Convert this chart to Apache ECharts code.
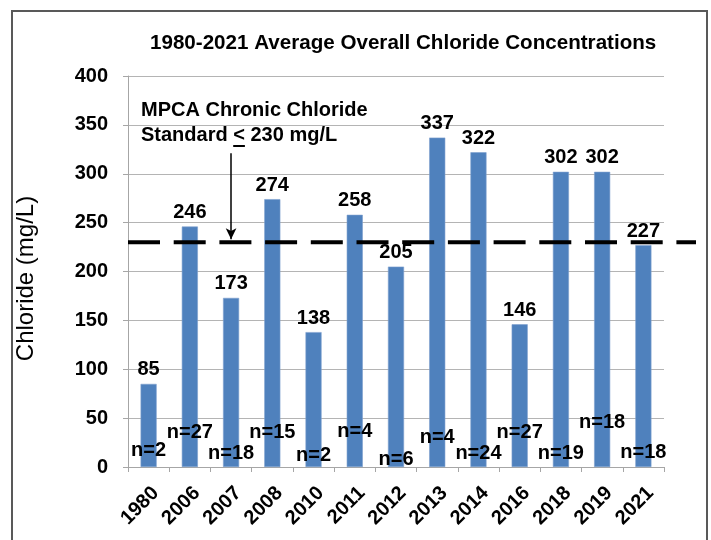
<!DOCTYPE html>
<html><head><meta charset="utf-8">
<script src="https://cdn.jsdelivr.net/npm/echarts@6/dist/echarts.min.js"></script>
<style>html,body{margin:0;padding:0;background:#fff}#c{width:711px;height:540px}</style>
</head><body><div id="c"></div>
<script>
const years = ['1980','2006','2007','2008','2010','2011','2012','2013','2014','2016','2018','2019','2021'];
const chloride = [85,246,173,274,138,258,205,337,322,146,302,302,227];
const sampleCounts = [2,27,18,15,2,4,6,4,24,27,19,18,18];
const sampleLabelAt = [17,35,14,35,12,36,8,30,14,35,14,46,15];
const standardValue = 230;
const arrowFrom = 321, arrowTo = 233;
const yMin = 0, yMax = 400, yStep = 50;

const FONT = "'Liberation Sans', Arial, sans-serif";
const chart = echarts.init(document.getElementById('c'), null, {renderer: 'canvas'});
chart.setOption({
  animation: false,
  backgroundColor: '#fff',
  title: {
    text: '1980-2021 Average Overall Chloride Concentrations',
    left: 150, top: 33, padding: 0,
    textStyle: {fontFamily: FONT, fontWeight: 'bold', fontSize: 20.6, color: '#000'}
  },
  grid: [
    {left: 128, right: 47, top: 76, bottom: 73},
    {left: 128, right: 15, top: 76, bottom: 73}
  ],
  xAxis: [{
    type: 'category', data: years, gridIndex: 0,
    axisLine: {lineStyle: {color: '#a6a6a6', width: 1}},
    axisTick: {show: true, length: 5, lineStyle: {color: '#a6a6a6'}},
    axisLabel: {rotate: 45, margin: 16, align: 'right', verticalAlign: 'top', interval: 0,
      fontFamily: FONT, fontWeight: 'bold', fontSize: 20, color: '#000'}
  }, {
    type: 'value', gridIndex: 1, min: 0, max: 1, show: false
  }],
  yAxis: [{
    type: 'value', gridIndex: 0, min: yMin, max: yMax, interval: yStep,
    name: 'Chloride (mg/L)', nameLocation: 'middle', nameGap: 90, nameRotate: 90,
    nameTextStyle: {fontFamily: FONT, fontSize: 24, color: '#000', padding: [0, 14, 0, 0]},
    axisLine: {show: true, lineStyle: {color: '#a6a6a6', width: 1}},
    axisTick: {show: true, length: 5, lineStyle: {color: '#a6a6a6'}},
    splitLine: {lineStyle: {color: '#b4b4b4', width: 1}},
    axisLabel: {margin: 20, fontFamily: FONT, fontWeight: 'bold', fontSize: 20, color: '#000'}
  }, {
    type: 'value', gridIndex: 1, min: yMin, max: yMax, show: false
  }],
  series: [{
    type: 'bar', data: chloride, barWidth: '39%',
    itemStyle: {color: '#4f81bd', borderColor: '#7da0cf', borderWidth: 0.6},
    label: {show: true, position: 'top', distance: 4,
      fontFamily: FONT, fontWeight: 'bold', fontSize: 20, color: '#000'},
    markLine: {
      silent: true, symbol: ['none', 'arrow'], symbolSize: [8, 11],
      lineStyle: {color: '#000', width: 1.5, type: 'solid'},
      label: {show: false},
      data: [[{coord: [years[2], arrowFrom]}, {coord: [years[2], arrowTo]}]]
    },
    z: 2
  }, {
    type: 'scatter', symbolSize: 0,
    data: sampleLabelAt.map((v, i) => [years[i], v]),
    itemStyle: {color: '#000', opacity: 1},
    label: {show: true, position: 'inside',
      formatter: p => 'n=' + sampleCounts[p.dataIndex],
      fontFamily: FONT, fontWeight: 'bold', fontSize: 20, color: '#000',
      textBorderWidth: 0, textBorderColor: 'transparent', opacity: 1},
    z: 4
  }, {
    type: 'line', xAxisIndex: 1, yAxisIndex: 1, symbol: 'none',
    data: [[0, standardValue], [1, standardValue]],
    lineStyle: {color: '#000', width: 4, type: [32, 13.7], cap: 'butt'},
    z: 5
  }],
  graphic: [{
    type: 'rect', shape: {x: 12, y: 11, width: 695, height: 600},
    style: {fill: 'none', stroke: '#595959', lineWidth: 2}, silent: true
  }, {
    type: 'text', x: 141, y: 98,
    style: {text: 'MPCA Chronic Chloride\nStandard < 230 mg/L', font: 'bold 20px ' + FONT,
      lineHeight: 25, fill: '#000', textVerticalAlign: 'top'}
  }, {
    type: 'rect', shape: {x: 233.2, y: 145, width: 11.7, height: 2},
    style: {fill: '#000'}
  }]
});
</script></body></html>
